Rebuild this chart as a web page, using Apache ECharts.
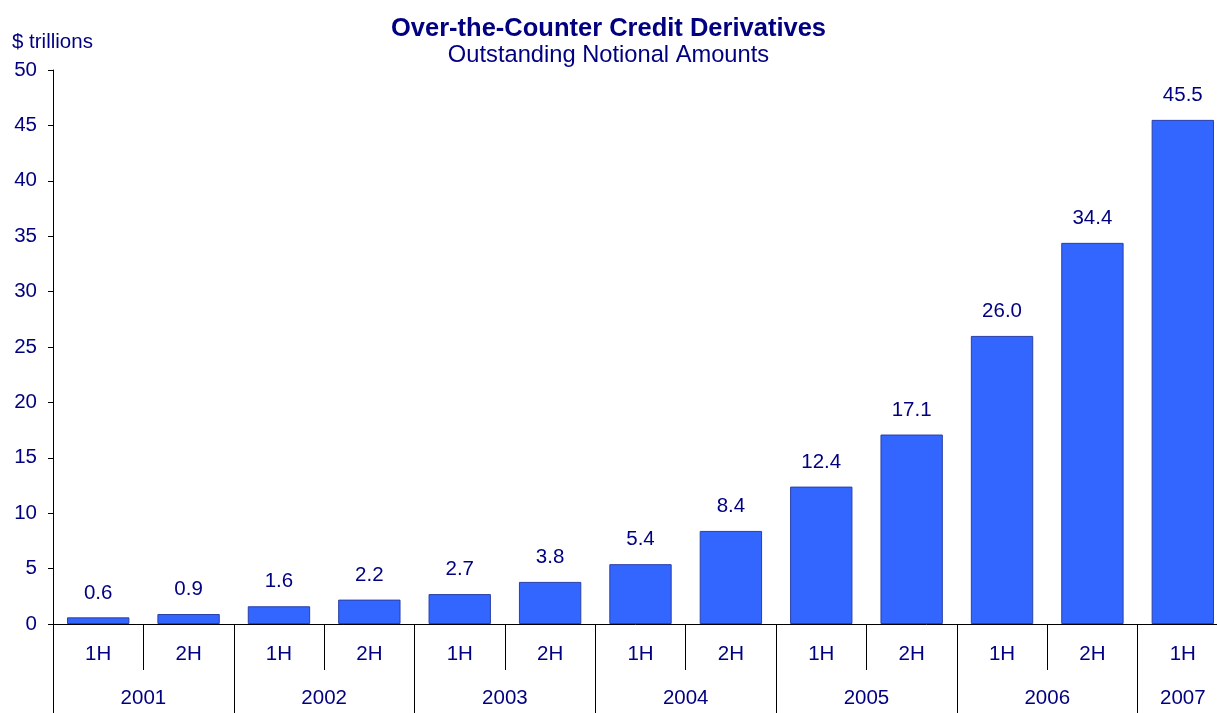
<!DOCTYPE html>
<html>
<head>
<meta charset="utf-8">
<title>Over-the-Counter Credit Derivatives</title>
<script src="https://cdn.jsdelivr.net/npm/echarts@6/dist/echarts.min.js"></script>
<style>
  html, body { margin: 0; padding: 0; background: #fff; overflow: hidden; }
  #chart { width: 1217px; height: 713px; }
</style>
</head>
<body>
<div id="chart"></div>
<script>
// Half-year periods, the year each pair belongs to, and notional amounts ($ trillions)
const halves = ['1H', '2H', '1H', '2H', '1H', '2H', '1H', '2H', '1H', '2H', '1H', '2H', '1H'];
const years = ['2001', '2002', '2003', '2004', '2005', '2006', '2007'];
const yearSpans = [2, 2, 2, 2, 2, 2, 1];
const amounts = [0.6, 0.9, 1.6, 2.2, 2.7, 3.8, 5.4, 8.4, 12.4, 17.1, 26.0, 34.4, 45.5];
const yTicks = [0, 5, 10, 15, 20, 25, 30, 35, 40, 45, 50];

const navy = '#000080';
const font = 'Liberation Sans, Arial, sans-serif';

// Year boundaries and year label centres, in half-year units along the axis
const yearBounds = [0];
yearSpans.forEach(s => yearBounds.push(yearBounds[yearBounds.length - 1] + s));
const yearCentres = years.map((y, i) => (yearBounds[i] + yearBounds[i + 1]) / 2);

const chart = echarts.init(document.getElementById('chart'), null, { renderer: 'canvas' });

chart.setOption({
  animation: false,
  backgroundColor: '#ffffff',
  title: [
    {
      text: 'Over-the-Counter Credit Derivatives',
      left: 'center', top: 10,
      textStyle: { color: navy, fontFamily: font, fontSize: 25.5, fontWeight: 'bold', lineHeight: 28 }
    },
    {
      text: 'Outstanding Notional Amounts',
      left: 'center', top: 36,
      textStyle: { color: navy, fontFamily: font, fontSize: 23.7, fontWeight: 'normal', lineHeight: 28 }
    },
    {
      text: '$ trillions',
      left: 7, top: 25,
      textStyle: { color: navy, fontFamily: font, fontSize: 20.5, fontWeight: 'normal', lineHeight: 24 }
    }
  ],
  // The last category runs a little past the right edge of the canvas
  grid: { left: 53, width: 1175, top: 70, height: 554, containLabel: false, outerBoundsMode: 'none' },
  xAxis: [
    {
      type: 'category',
      data: halves,
      boundaryGap: true,
      axisLine: { show: true, lineStyle: { color: '#000', width: 1 } },
      axisTick: { show: true, interval: 0, length: 46, lineStyle: { color: '#000', width: 1 } },
      axisLabel: { interval: 0, margin: 20, color: navy, fontFamily: font, fontSize: 20.5, lineHeight: 21 },
      splitLine: { show: false }
    },
    {
      type: 'value',
      position: 'bottom',
      min: 0,
      max: halves.length,
      axisLine: { show: false },
      axisTick: { show: true, customValues: yearBounds.slice(0, -1), length: 89, lineStyle: { color: '#000', width: 1 } },
      axisLabel: {
        customValues: yearCentres,
        margin: 64,
        color: navy, fontFamily: font, fontSize: 20.5, lineHeight: 21,
        formatter: v => years[yearCentres.indexOf(v)] || ''
      },
      splitLine: { show: false }
    }
  ],
  yAxis: {
    type: 'value',
    min: yTicks[0],
    max: yTicks[yTicks.length - 1],
    interval: 5,
    axisLine: { show: true, lineStyle: { color: '#000', width: 1 } },
    axisTick: { show: true, length: 5, lineStyle: { color: '#000', width: 1 } },
    axisLabel: { margin: 16, color: navy, fontFamily: font, fontSize: 20.5 },
    splitLine: { show: false }
  },
  series: [
    {
      type: 'bar',
      xAxisIndex: 0,
      data: amounts,
      barCategoryGap: '31%',
      itemStyle: { color: '#3366FF', borderColor: '#2B3FA8', borderWidth: 1 },
      label: {
        show: true,
        position: 'top',
        distance: 14,
        color: navy,
        fontFamily: font,
        fontSize: 20.5,
        lineHeight: 21,
        formatter: p => p.value.toFixed(1)
      }
    }
  ]
});
</script>
</body>
</html>
